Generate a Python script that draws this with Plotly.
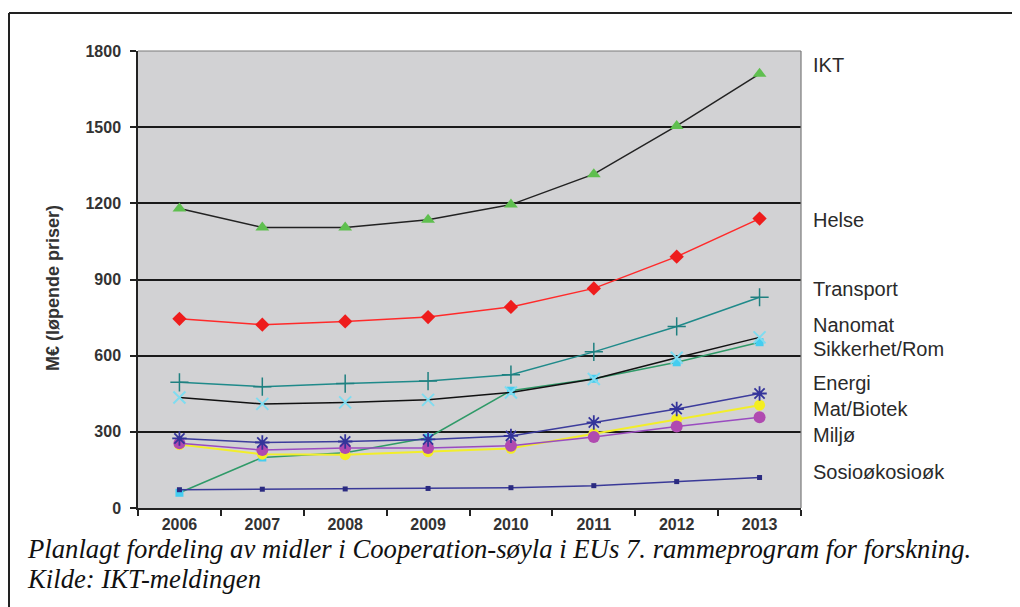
import plotly.graph_objects as go

years = ["2006", "2007", "2008", "2009", "2010", "2011", "2012", "2013"]
ikt = [1180, 1105, 1105, 1135, 1195, 1315, 1505, 1710]
helse = [745, 722, 735, 752, 792, 865, 990, 1140]
transport = [495, 478, 490, 500, 525, 615, 715, 830]
nanomat = [435, 410, 416, 426, 455, 508, 592, 672]
sikkerhet = [60, 199, 218, 277, 462, 509, 574, 653]
energi = [274, 258, 262, 270, 284, 337, 390, 451]
matbiotek = [250, 212, 210, 222, 235, 292, 350, 405]
miljo = [255, 228, 236, 236, 245, 280, 321, 357]
sosio = [72, 74, 75, 77, 80, 88, 104, 120]

y_ticks = [0, 300, 600, 900, 1200, 1500, 1800]
right_labels = ["IKT", "Helse", "Transport", "Nanomat", "Sikkerhet/Rom",
                "Energi", "Mat/Biotek", "Miljø", "Sosioøkosioøk"]
label_y_px = [65, 220, 289, 325, 349, 383, 409, 435, 472]

caption1 = "Planlagt fordeling av midler i Cooperation-søyla i EUs 7. rammeprogram for forskning."
caption2 = "Kilde: IKT-meldingen"

# page offset (browser body margin)
O = 8
PW, PH = 1020, 607
W, H = PW - O, PH - O
L, R, T, B = 138, 801, 51, 508  # plot area in page pixels


def px(x):
    return (x - L) / (R - L)


def py(y):
    return (B - y) / (B - T)


fig = go.Figure()

series = [
    (sikkerhet, dict(color="#2f9a68", width=1.5), dict(symbol="square", size=8, color="#45cdf0")),
    (sosio, dict(color="#3a3a98", width=1.5), dict(symbol="square", size=5, color="#2a2a80")),
    (matbiotek, dict(color="#f2ee2a", width=2), dict(symbol="circle", size=11, color="#f4ee20")),
    (miljo, dict(color="#9a4cc0", width=1.5), dict(symbol="circle", size=12, color="#b04ab0")),
    (energi, dict(color="#3c3c9c", width=1.5), dict(symbol="asterisk-open", size=12, color="#34349a", line=dict(width=1.8, color="#34349a"))),
    (nanomat, dict(color="#111111", width=1.5), dict(symbol="x-thin", size=12, color="#7fdcf0", line=dict(width=2, color="#7fdcf0"))),
    (transport, dict(color="#1f8a8a", width=1.5), dict(symbol="cross-thin", size=13, color="#1f8080", line=dict(width=1.5, color="#1f8080"))),
    (helse, dict(color="#ff2a2a", width=1.5), dict(symbol="diamond", size=11, color="#ee1c1c")),
    (ikt, dict(color="#222222", width=1.5), dict(symbol="triangle-up", size=12, color="#5fbf4f")),
]
for vals, line, marker in series:
    fig.add_trace(go.Scatter(x=years, y=vals, mode="lines+markers",
                             line=line, marker=marker, showlegend=False,
                             cliponaxis=False))

fig.update_layout(
    width=W, height=H,
    margin=dict(l=L - O, r=PW - R, t=T - O, b=PH - B),
    paper_bgcolor="white",
    plot_bgcolor="#d2d2d4",
    showlegend=False,
    font=dict(family="Liberation Sans, Arial, sans-serif", color="#333333"),
)
fig.update_xaxes(
    type="category", range=[-0.5, 7.5], tickson="boundaries",
    ticks="outside", ticklen=6, tickwidth=1.5, tickcolor="#222222",
    showline=True, linecolor="#222222", linewidth=1.5, ticklabelstandoff=1,
    showgrid=False, tickfont=dict(size=16, color="#333333", weight="bold"),
)
fig.update_yaxes(
    range=[0, 1800], tickvals=y_ticks,
    ticks="outside", ticklen=6, tickwidth=1.5, tickcolor="#222222",
    showline=True, linecolor="#222222", linewidth=1.5, ticklabelstandoff=6,
    showgrid=True, gridcolor="#1a1a1a", gridwidth=1.5,
    zeroline=False, tickfont=dict(size=16, color="#333333", weight="bold"),
)

shapes = [
    dict(type="line", xref="paper", yref="paper", x0=0, x1=1, y0=1, y1=1,
         line=dict(color="#7a7a7a", width=1.2)),
    dict(type="line", xref="paper", yref="paper", x0=1, x1=1, y0=0, y1=1,
         line=dict(color="#7a7a7a", width=1.2)),
    dict(type="line", xref="paper", yref="paper", x0=px(9), x1=px(1020), y0=py(13), y1=py(13),
         line=dict(color="#222222", width=2)),
    dict(type="line", xref="paper", yref="paper", x0=px(9), x1=px(9), y0=py(13), y1=py(607),
         line=dict(color="#222222", width=2)),
]
fig.update_layout(shapes=shapes)

annotations = []
for txt, yy in zip(right_labels, label_y_px):
    annotations.append(dict(text=txt, xref="paper", yref="paper", x=px(811), y=py(yy),
                            xanchor="left", yanchor="middle", showarrow=False,
                            font=dict(size=20, color="#2a2a2a",
                                      family="Liberation Sans, Arial, sans-serif")))
annotations.append(dict(text="M€ (løpende priser)", xref="paper", yref="paper",
                        x=px(53), y=py(288), xanchor="center", yanchor="middle",
                        textangle=-90, showarrow=False,
                        font=dict(size=18, color="#333333", weight="bold",
                                  family="Liberation Sans, Arial, sans-serif")))
for txt, yy in [(caption1, 549), (caption2, 579)]:
    annotations.append(dict(text=txt, xref="paper", yref="paper", x=px(25), y=py(yy),
                            xanchor="left", yanchor="middle", showarrow=False,
                            font=dict(size=26.7, color="#111111", style="italic",
                                      family="Liberation Serif, Times New Roman, serif")))
fig.update_layout(annotations=annotations)

fig.write_html("out.html")
